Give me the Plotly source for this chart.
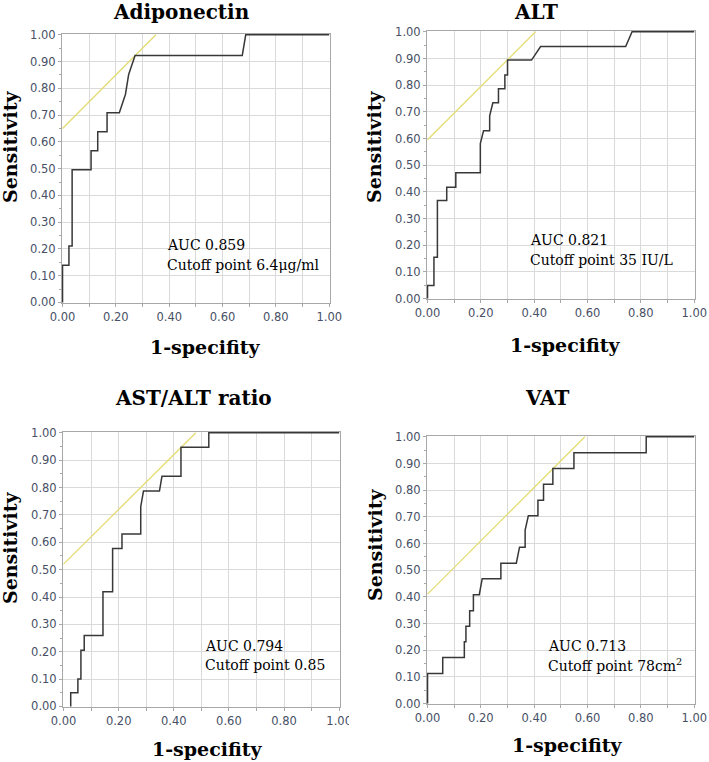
import plotly.graph_objects as go

W, H = 709, 762
OFF = 0  # page offset (px); body margin removed below

# ---------------- data ----------------
panel_titles = ["Adiponectin", "ALT", "AST/ALT ratio", "VAT"]
auc_labels = ["AUC 0.859", "AUC 0.821", "AUC 0.794", "AUC 0.713"]
cutoff_labels = ["Cutoff point 6.4μg/ml", "Cutoff point 35 IU/L",
                 "Cutoff point 0.85", "Cutoff point 78cm<sup>2</sup>"]

adipo_fpr = [0, 0, 0.024, 0.024, 0.036, 0.036, 0.107, 0.107, 0.132, 0.132,
             0.167, 0.167, 0.213, 0.236, 0.248, 0.272, 0.674, 0.687, 1.0]
adipo_tpr = [0, 0.139, 0.139, 0.211, 0.211, 0.496, 0.496, 0.567, 0.567, 0.638,
             0.638, 0.709, 0.709, 0.778, 0.852, 0.923, 0.923, 1.0, 1.0]

alt_fpr = [0, 0, 0.024, 0.024, 0.037, 0.037, 0.072, 0.072, 0.106, 0.106,
           0.198, 0.198, 0.21, 0.233, 0.233, 0.245, 0.266, 0.266, 0.29, 0.29,
           0.30, 0.30, 0.39, 0.424, 0.743, 0.767, 1.0]
alt_tpr = [0, 0.049, 0.049, 0.155, 0.155, 0.367, 0.367, 0.417, 0.417, 0.471,
           0.471, 0.581, 0.629, 0.629, 0.685, 0.734, 0.734, 0.786, 0.786, 0.838,
           0.838, 0.894, 0.894, 0.945, 0.945, 1.0, 1.0]

ratio_fpr = [0.026, 0.026, 0.052, 0.052, 0.063, 0.063, 0.075, 0.075, 0.143, 0.143,
             0.178, 0.178, 0.212, 0.212, 0.28, 0.28, 0.29, 0.348, 0.357, 0.426,
             0.426, 0.527, 0.527, 1.0]
ratio_tpr = [0, 0.05, 0.05, 0.10, 0.10, 0.205, 0.205, 0.259, 0.259, 0.419,
             0.419, 0.577, 0.577, 0.63, 0.63, 0.73, 0.787, 0.787, 0.841, 0.841,
             0.947, 0.947, 1.0, 1.0]

vat_fpr = [0, 0, 0.057, 0.057, 0.138, 0.138, 0.144, 0.144, 0.158, 0.158,
           0.172, 0.172, 0.194, 0.205, 0.275, 0.275, 0.333, 0.345, 0.366, 0.366,
           0.378, 0.414, 0.414, 0.435, 0.435, 0.47, 0.47, 0.549, 0.549, 0.82,
           0.82, 1.0]
vat_tpr = [0, 0.112, 0.112, 0.172, 0.172, 0.231, 0.231, 0.29, 0.29, 0.348,
           0.348, 0.408, 0.408, 0.468, 0.468, 0.526, 0.526, 0.586, 0.586, 0.65,
           0.704, 0.704, 0.762, 0.762, 0.822, 0.822, 0.881, 0.881, 0.94, 0.94,
           1.0, 1.0]

# Youden tangent lines (slope 1): intercepts
tangent_intercepts = [0.65, 0.595, 0.52, 0.41]

y_tick_step = 0.1
x_tick_step = 0.2
grid_minor_step = 0.1

curves = [(adipo_fpr, adipo_tpr), (alt_fpr, alt_tpr),
          (ratio_fpr, ratio_tpr), (vat_fpr, vat_tpr)]

# ---------------- layout geometry (screen pixels) ----------------
areas = [(62, 330, 34, 303), (427, 695, 31, 299),
         (63, 340, 432, 707), (427, 695, 436, 704)]
title_pos = [(181, 12), (536, 12), (193, 398), (547, 398)]
xtitle_pos = [(205, 347), (565, 345), (207, 749), (567, 745)]
ytitle_pos = [(10, 147), (374, 146), (10, 548), (375, 544)]
annot_pos = [(0.384, 0.216, 0.141), (0.377, 0.22, 0.146),
             (0.505, 0.222, 0.153), (0.444, 0.216, 0.146)]


def px(x):
    return (x - OFF) / W


def py(y):
    return 1 - (y - OFF) / H


SERIF = "DejaVu Serif"
SANS = "DejaVu Sans"
TICKCOL = "#475066"
GRIDCOL = "#dadada"
FRAMECOL = "#a8a8a8"

fig = go.Figure()
layout = dict(width=W, height=H, margin=dict(l=0, r=0, t=0, b=0, autoexpand=False),
              paper_bgcolor="white", plot_bgcolor="white", showlegend=False,
              template="none")

annotations = []
for i in range(4):
    k = "" if i == 0 else str(i + 1)
    xa, ya = "x" + k, "y" + k
    x0, x1, yt, yb = areas[i]
    c = tangent_intercepts[i]
    fig.add_trace(go.Scatter(x=[0, 1 - c], y=[c, 1], mode="lines",
                             line=dict(color="#e4dc70", width=1.3),
                             xaxis=xa, yaxis=ya, hoverinfo="skip"))
    fx, ty = curves[i]
    fig.add_trace(go.Scatter(x=fx, y=ty, mode="lines",
                             line=dict(color="#383838", width=1.5),
                             xaxis=xa, yaxis=ya))
    common = dict(range=[-0.002, 1.003], tick0=0, tickformat=".2f",
                  showgrid=True, gridcolor=GRIDCOL, gridwidth=1,
                  showline=True, linecolor=FRAMECOL, linewidth=1, mirror=True,
                  ticks="outside", ticklen=3, tickcolor=FRAMECOL,
                  tickfont=dict(family=SANS, size=11.5, color=TICKCOL),
                  zeroline=False, fixedrange=True, automargin=False)
    layout["xaxis" + k] = dict(common, dtick=x_tick_step,
                               minor=dict(dtick=grid_minor_step, tick0=0,
                                          ticks="outside", ticklen=3,
                                          tickcolor=FRAMECOL, showgrid=True,
                                          gridcolor=GRIDCOL),
                               domain=[px(x0), px(x1)], anchor=ya)
    layout["yaxis" + k] = dict(common, dtick=y_tick_step,
                               minor=dict(dtick=y_tick_step / 2, tick0=0,
                                          ticks="outside", ticklen=2,
                                          tickcolor=FRAMECOL, showgrid=False),
                               domain=[py(yb), py(yt)], anchor=xa)

    tx, tyy = title_pos[i]
    annotations.append(dict(text="<b>" + panel_titles[i] + "</b>", x=px(tx),
                            y=py(tyy), xref="paper", yref="paper",
                            showarrow=False, xanchor="center", yanchor="middle",
                            font=dict(family=SERIF, size=20, color="black")))
    xx, xy = xtitle_pos[i]
    annotations.append(dict(text="<b>1-specifity</b>", x=px(xx), y=py(xy),
                            xref="paper", yref="paper", showarrow=False,
                            xanchor="center", yanchor="middle",
                            font=dict(family=SERIF, size=19, color="black")))
    yx, yy = ytitle_pos[i]
    annotations.append(dict(text="<b>Sensitivity</b>", x=px(yx), y=py(yy),
                            xref="paper", yref="paper", showarrow=False,
                            textangle=-90, xanchor="center", yanchor="middle",
                            font=dict(family=SERIF, size=19, color="black")))
    ax, ay1, ay2 = annot_pos[i]
    annotations.append(dict(text=auc_labels[i], x=ax, y=ay1, xref=xa, yref=ya,
                            showarrow=False, xanchor="left", yanchor="middle",
                            font=dict(family=SERIF, size=14, color="black")))
    annotations.append(dict(text=cutoff_labels[i], x=ax, y=ay2, xref=xa, yref=ya,
                            showarrow=False, xanchor="left", yanchor="middle",
                            font=dict(family=SERIF, size=14, color="black")))

layout["annotations"] = annotations
# clipped edge of the lower-left panel's last tick label (image seam)
layout["shapes"] = [dict(type="rect", xref="paper", yref="paper",
                         x0=px(349), x1=px(362), y0=py(728), y1=py(710),
                         fillcolor="white", line=dict(width=0), layer="above")]
fig.update_layout(**layout)
fig.write_html("out.html",
               config={"displayModeBar": False, "staticPlot": True},
               post_script="document.body.style.margin='0px';"
                           "document.body.style.overflow='hidden';")
